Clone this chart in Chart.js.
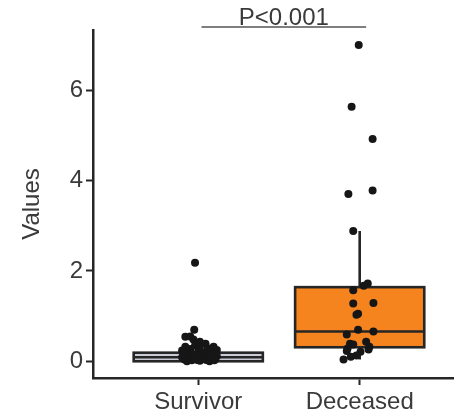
<!DOCTYPE html>
<html>
<head>
<meta charset="utf-8">
<script src="https://cdn.jsdelivr.net/npm/chart.js@4"></script>
<style>
  html, body { margin: 0; padding: 0; background: #fff; }
  #wrap { width: 457px; height: 415px; position: relative; }
</style>
</head>
<body>
<div id="wrap"><canvas id="boxChart"></canvas></div>
<script>
// groups on the x axis
const categories = ["Survivor", "Deceased"];
const yTicks = [0, 2, 4, 6];

// box summary per group
const q1Values = [0.0, 0.31];
const medians = [0.09, 0.66];
const q3Values = [0.19, 1.64];
const whiskerLow = [0.0, 0.04];
const whiskerHigh = [0.40, 2.88];

// individual observations
const survivorValues = [
    2.18, 0.70, 0.54, 0.55, 0.48, 0.43, 0.39, 0.32, 0.32, 0.35,
    0.30, 0.28, 0.27, 0.25, 0.24, 0.22, 0.21, 0.20, 0.19, 0.18,
    0.17, 0.16, 0.15, 0.14, 0.13, 0.12, 0.11, 0.10, 0.09, 0.08,
    0.07, 0.06, 0.05, 0.05, 0.04, 0.03, 0.02, 0.01, 0.00, 0.00,
    0.02, 0.03,
];
const survivorJitter = [
    -0.02, -0.025, -0.08, -0.05, -0.03, 0.01, 0.045, 0.095, -0.08, -0.02,
    0.01, 0.06, -0.05, 0.115, -0.1, 0.0, -0.05, 0.075, 0.04, -0.075,
    -0.09, 0.1, -0.02, 0.01, 0.06, -0.06, 0.115, -0.03, -0.1, 0.03,
    0.08, -0.055, 0.0, 0.105, -0.085, 0.05, -0.04, 0.01, -0.07, 0.07,
    0.1, -0.005,
];
const deceasedValues = [
    7.00, 5.63, 4.92, 3.70, 3.78, 2.88, 1.72, 1.67, 1.57, 1.28,
    1.29, 1.03, 1.05, 0.70, 0.66, 0.59, 0.39, 0.37, 0.43, 0.32,
    0.26, 0.23, 0.21, 0.13, 0.10, 0.04, 0.28,
];
const deceasedJitter = [
    -0.006, -0.05, 0.08, -0.07, 0.08, -0.04, 0.05, 0.025, -0.04, -0.04,
    0.085, -0.02, -0.01, -0.01, 0.085, -0.08, -0.06, -0.04, 0.04, 0.06,
    0.055, -0.08, 0.005, -0.02, -0.055, -0.1, -0.075,
];

const boxFills = ["#c9ccd6", "#f5841f"];
const inkColor = "#262626";
const textColor = "#3a3a3a";
const fontFamily = "'Liberation Sans', Arial, sans-serif";

function toPoints(values, jitter, pos) {
    return values.map((v, i) => ({ x: pos + jitter[i], y: v }));
}

// boxes + whiskers under the points
const boxPlugin = {
    id: "boxes",
    beforeDatasetsDraw(chart) {
        const { ctx, scales } = chart;
        const x = scales.x, y = scales.y;
        const half = 0.4;
        ctx.save();
        ctx.strokeStyle = inkColor;
        ctx.lineWidth = 2.6;
        categories.forEach((c, i) => {
            const pos = i + 1;
            const cx = x.getPixelForValue(pos);
            const left = x.getPixelForValue(pos - half);
            const right = x.getPixelForValue(pos + half);
            const top = y.getPixelForValue(q3Values[i]);
            const bottom = y.getPixelForValue(q1Values[i]);

            ctx.beginPath();
            ctx.moveTo(cx, y.getPixelForValue(whiskerHigh[i]));
            ctx.lineTo(cx, top);
            ctx.moveTo(cx, bottom);
            ctx.lineTo(cx, y.getPixelForValue(whiskerLow[i]));
            ctx.stroke();

            ctx.fillStyle = boxFills[i];
            ctx.fillRect(left, top, right - left, bottom - top);
            ctx.strokeRect(left, top, right - left, bottom - top);

            const my = y.getPixelForValue(medians[i]);
            ctx.beginPath();
            ctx.moveTo(left, my);
            ctx.lineTo(right, my);
            ctx.stroke();
        });
        ctx.restore();
    },
};

// significance bracket above the plot
const bracketPlugin = {
    id: "bracket",
    afterDraw(chart) {
        const { ctx, scales, chartArea } = chart;
        const x1 = scales.x.getPixelForValue(1.02);
        const x2 = scales.x.getPixelForValue(2.04);
        const ly = chartArea.top - 3;
        ctx.save();
        ctx.strokeStyle = "#555";
        ctx.lineWidth = 1.5;
        ctx.beginPath();
        ctx.moveTo(x1, ly);
        ctx.lineTo(x2, ly);
        ctx.stroke();
        ctx.fillStyle = textColor;
        ctx.font = "24px " + fontFamily;
        ctx.textAlign = "center";
        ctx.textBaseline = "alphabetic";
        ctx.fillText("P<0.001", (x1 + x2) / 2, ly - 2);
        ctx.restore();
    },
};

new Chart(document.getElementById("boxChart"), {
    type: "scatter",
    data: {
        datasets: [
            {
                label: categories[0],
                data: toPoints(survivorValues, survivorJitter, 1),
            },
            {
                label: categories[1],
                data: toPoints(deceasedValues, deceasedJitter, 2),
            },
        ],
    },
    options: {
        responsive: true,
        maintainAspectRatio: false,
        animation: false,
        layout: { padding: { top: 30, right: 0, bottom: 0, left: 0 } },
        elements: {
            point: {
                radius: 4,
                backgroundColor: "#161616",
                borderWidth: 0,
                hoverRadius: 4,
            },
        },
        plugins: {
            legend: { display: false },
            tooltip: { enabled: false },
        },
        scales: {
            x: {
                type: "linear",
                min: 0.348,
                max: 2.578,
                afterBuildTicks: (scale) => {
                    scale.ticks = categories.map((c, i) => ({ value: i + 1 }));
                },
                afterFit: (scale) => {
                    scale.height = 37;
                },
                ticks: {
                    color: textColor,
                    padding: 3,
                    font: { family: fontFamily, size: 24 },
                    callback: (v) => categories[Math.round(v) - 1],
                },
                grid: {
                    drawOnChartArea: false,
                    tickLength: 7,
                    tickColor: inkColor,
                    tickWidth: 2,
                },
                border: { color: inkColor, width: 2.5 },
            },
            y: {
                min: -0.37,
                max: 7.33,
                afterBuildTicks: (scale) => {
                    scale.ticks = yTicks.map((v) => ({ value: v }));
                },
                afterFit: (scale) => {
                    scale.width = 93;
                },
                ticks: {
                    color: textColor,
                    padding: 3,
                    font: { family: fontFamily, size: 24 },
                },
                grid: {
                    drawOnChartArea: false,
                    tickLength: 7,
                    tickColor: inkColor,
                    tickWidth: 2,
                },
                border: { color: inkColor, width: 2.5 },
                title: {
                    display: true,
                    text: "Values",
                    color: textColor,
                    padding: { top: 18, bottom: 0 },
                    font: { family: fontFamily, size: 24 },
                },
            },
        },
    },
    plugins: [boxPlugin, bracketPlugin],
});
</script>
</body>
</html>
